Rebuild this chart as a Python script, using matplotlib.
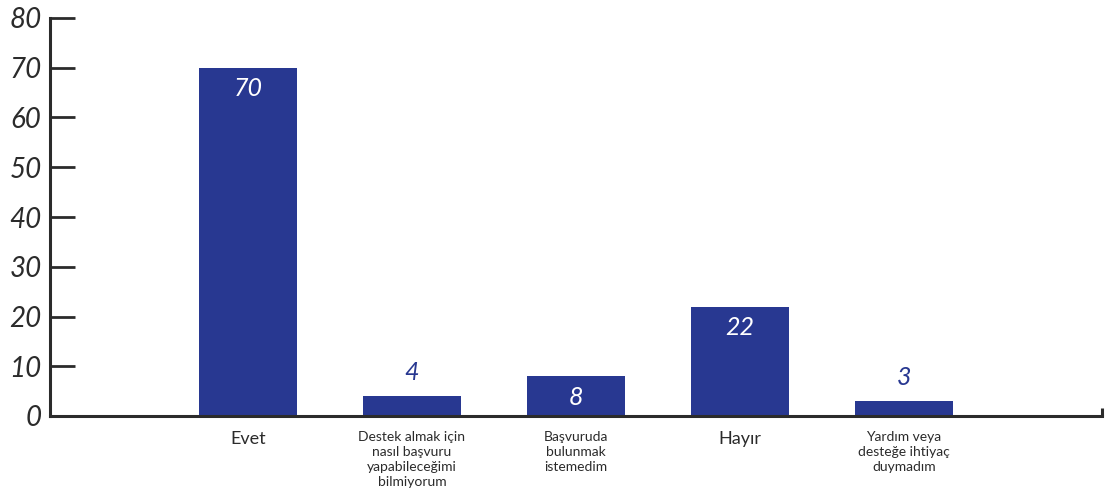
import numpy as np
import matplotlib.pyplot as plt

categories = ["Evet",
              "Destek almak için\nnasıl başvuru\nyapabileceğimi\nbilmiyorum",
              "Başvuruda\nbulunmak\nistemedim",
              "Hayır",
              "Yardım veya\ndesteğe ihtiyaç\nduymadım"]
values = [70, 4, 8, 22, 3]
inside = [True, False, True, True, False]
yticks = [0, 10, 20, 30, 40, 50, 60, 70, 80]

blue = '#283891'
dark = '#2b2b2b'

fig = plt.figure(figsize=(11.14, 4.92), dpi=100)
ax = fig.add_axes([50/1114, 76/492, 1052/1114, 398/492])

x = np.arange(len(values))
ax.bar(x, values, width=0.6, color=blue, zorder=2)

# value labels
for xi, v, ins in zip(x, values, inside):
    if ins:
        ax.text(xi, v - 1.9, str(v), ha='center', va='top', color='white',
                fontsize=18, style='italic', family='Lato')
    else:
        ax.text(xi, v + 2.4, str(v), ha='center', va='bottom', color=blue,
                fontsize=18, style='italic', family='Lato')

# category labels under axis
for xi, c in zip(x, categories):
    big = '\n' not in c
    ax.text(xi, -3.0, c, ha='center', va='top', color=dark,
            fontsize=13 if big else 10, family='Lato', linespacing=1.3)

ax.set_xlim(-1.207, 5.207)
ax.set_ylim(0, 80)
ax.set_yticks(yticks)
ax.set_yticklabels([str(t) for t in yticks], fontsize=20, style='italic',
                   family='Lato', color=dark)
ax.set_xticks([])
ax.tick_params(axis='y', direction='in', length=18, width=2, color=dark, pad=6)

for s in ['top', 'right']:
    ax.spines[s].set_visible(False)
for s in ['left', 'bottom']:
    ax.spines[s].set_linewidth(2.2)
    ax.spines[s].set_color(dark)

# small end mark on the x axis
ax.plot([1, 1], [0, 0.02], transform=ax.transAxes, color=dark, lw=2.2,
        clip_on=False, solid_capstyle='butt')

fig.savefig('out.png', dpi=100)
